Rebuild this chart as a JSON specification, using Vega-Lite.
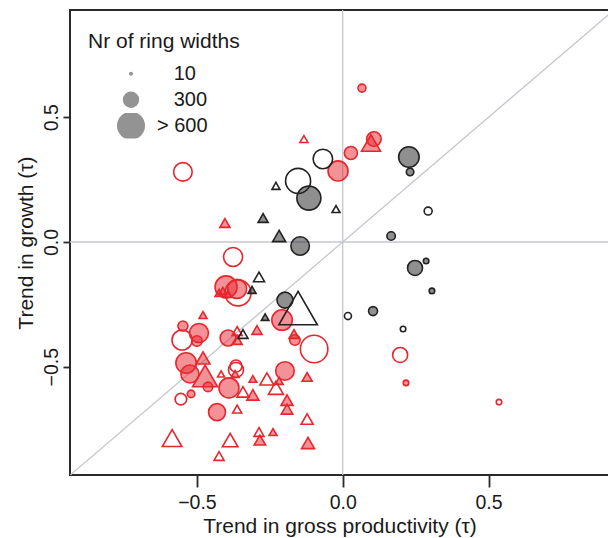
{
  "$schema": "https://vega.github.io/schema/vega-lite/v6.json",
  "width": 539,
  "height": 465,
  "autosize": {"type": "none"},
  "padding": {"left": 70, "top": 10, "right": 0, "bottom": 63},
  "background": "white",
  "config": {"font": "Liberation Sans", "view": {"stroke": "#2a2a2a", "strokeWidth": 2}},
  "layer": [
    {
      "data": {"values": [{"ref": "zero"}]},
      "mark": {"type": "rule", "color": "#c4c7cf", "strokeWidth": 1.3},
      "encoding": {"y": {"datum": 0, "type": "quantitative"}}
    },
    {
      "data": {"values": [{"ref": "zero"}]},
      "mark": {"type": "rule", "color": "#c4c7cf", "strokeWidth": 1.3},
      "encoding": {"x": {"datum": 0, "type": "quantitative"}}
    },
    {
      "data": {"values": [{"ref": "one-to-one"}]},
      "mark": {"type": "rule", "color": "#c4c7cf", "strokeWidth": 1.3, "clip": true},
      "encoding": {
        "x": {"datum": -0.935, "type": "quantitative"},
        "y": {"datum": -0.935, "type": "quantitative"},
        "x2": {"datum": 0.935},
        "y2": {"datum": 0.935}
      }
    },
    {
      "data": {"values": [
        {"x": 0.066, "y": 0.617, "n": 107, "shape": "circle", "group": "red filled"},
        {"x": 0.107, "y": 0.413, "n": 255, "shape": "circle", "group": "red filled"},
        {"x": 0.028, "y": 0.357, "n": 220, "shape": "circle", "group": "red filled"},
        {"x": -0.016, "y": 0.285, "n": 390, "shape": "circle", "group": "red filled"},
        {"x": -0.208, "y": -0.313, "n": 402, "shape": "circle", "group": "red filled"},
        {"x": -0.164, "y": -0.393, "n": 163, "shape": "circle", "group": "red filled"},
        {"x": -0.4, "y": -0.18, "n": 440, "shape": "circle", "group": "red filled"},
        {"x": -0.362, "y": -0.188, "n": 364, "shape": "circle", "group": "red filled"},
        {"x": -0.548, "y": -0.337, "n": 152, "shape": "circle", "group": "red filled"},
        {"x": -0.493, "y": -0.365, "n": 364, "shape": "circle", "group": "red filled"},
        {"x": -0.5, "y": -0.397, "n": 163, "shape": "circle", "group": "red filled"},
        {"x": -0.393, "y": -0.385, "n": 290, "shape": "circle", "group": "red filled"},
        {"x": -0.537, "y": -0.485, "n": 402, "shape": "circle", "group": "red filled"},
        {"x": -0.524, "y": -0.529, "n": 339, "shape": "circle", "group": "red filled"},
        {"x": -0.462, "y": -0.581, "n": 140, "shape": "circle", "group": "red filled"},
        {"x": -0.52, "y": -0.609, "n": 97, "shape": "circle", "group": "red filled"},
        {"x": -0.431, "y": -0.682, "n": 315, "shape": "circle", "group": "red filled"},
        {"x": -0.39, "y": -0.585, "n": 390, "shape": "circle", "group": "red filled"},
        {"x": -0.198, "y": -0.517, "n": 352, "shape": "circle", "group": "red filled"},
        {"x": 0.217, "y": -0.565, "n": 52, "shape": "circle", "group": "red filled"},
        {"x": 0.097, "y": 0.397, "n": 364, "shape": "triangle", "group": "red filled"},
        {"x": -0.404, "y": 0.076, "n": 152, "shape": "triangle", "group": "red filled"},
        {"x": -0.294, "y": -0.353, "n": 152, "shape": "triangle", "group": "red filled"},
        {"x": -0.167, "y": -0.369, "n": 152, "shape": "triangle", "group": "red filled"},
        {"x": -0.424, "y": -0.204, "n": 107, "shape": "triangle", "group": "red filled"},
        {"x": -0.411, "y": -0.196, "n": 107, "shape": "triangle", "group": "red filled"},
        {"x": -0.393, "y": -0.208, "n": 107, "shape": "triangle", "group": "red filled"},
        {"x": -0.479, "y": -0.293, "n": 107, "shape": "triangle", "group": "red filled"},
        {"x": -0.362, "y": -0.393, "n": 152, "shape": "triangle", "group": "red filled"},
        {"x": -0.479, "y": -0.465, "n": 243, "shape": "triangle", "group": "red filled"},
        {"x": -0.472, "y": -0.537, "n": 519, "shape": "triangle", "group": "red filled"},
        {"x": -0.369, "y": -0.529, "n": 107, "shape": "triangle", "group": "red filled"},
        {"x": -0.308, "y": -0.549, "n": 97, "shape": "triangle", "group": "red filled"},
        {"x": -0.218, "y": -0.557, "n": 107, "shape": "triangle", "group": "red filled"},
        {"x": -0.308, "y": -0.613, "n": 197, "shape": "triangle", "group": "red filled"},
        {"x": -0.191, "y": -0.634, "n": 197, "shape": "triangle", "group": "red filled"},
        {"x": -0.191, "y": -0.67, "n": 185, "shape": "triangle", "group": "red filled"},
        {"x": -0.122, "y": -0.541, "n": 152, "shape": "triangle", "group": "red filled"},
        {"x": -0.284, "y": -0.794, "n": 185, "shape": "triangle", "group": "red filled"},
        {"x": -0.239, "y": -0.762, "n": 107, "shape": "triangle", "group": "red filled"},
        {"x": -0.119, "y": -0.806, "n": 220, "shape": "triangle", "group": "red filled"},
        {"x": -0.548, "y": 0.281, "n": 352, "shape": "circle", "group": "red open"},
        {"x": 0.197, "y": -0.453, "n": 267, "shape": "circle", "group": "red open"},
        {"x": 0.536, "y": -0.642, "n": 52, "shape": "circle", "group": "red open"},
        {"x": -0.098, "y": -0.429, "n": 586, "shape": "circle", "group": "red open"},
        {"x": -0.376, "y": -0.06, "n": 364, "shape": "circle", "group": "red open"},
        {"x": -0.359, "y": -0.204, "n": 546, "shape": "circle", "group": "red open"},
        {"x": -0.551, "y": -0.393, "n": 390, "shape": "circle", "group": "red open"},
        {"x": -0.555, "y": -0.63, "n": 185, "shape": "circle", "group": "red open"},
        {"x": -0.366, "y": -0.497, "n": 197, "shape": "circle", "group": "red open"},
        {"x": -0.366, "y": -0.513, "n": 267, "shape": "circle", "group": "red open"},
        {"x": -0.133, "y": 0.413, "n": 107, "shape": "triangle", "group": "red open"},
        {"x": -0.362, "y": -0.357, "n": 152, "shape": "triangle", "group": "red open"},
        {"x": -0.417, "y": -0.529, "n": 86, "shape": "triangle", "group": "red open"},
        {"x": -0.342, "y": -0.601, "n": 197, "shape": "triangle", "group": "red open"},
        {"x": -0.26, "y": -0.549, "n": 243, "shape": "triangle", "group": "red open"},
        {"x": -0.229, "y": -0.585, "n": 267, "shape": "triangle", "group": "red open"},
        {"x": -0.362, "y": -0.67, "n": 129, "shape": "triangle", "group": "red open"},
        {"x": -0.585, "y": -0.786, "n": 377, "shape": "triangle", "group": "red open"},
        {"x": -0.386, "y": -0.794, "n": 279, "shape": "triangle", "group": "red open"},
        {"x": -0.424, "y": -0.858, "n": 152, "shape": "triangle", "group": "red open"},
        {"x": -0.287, "y": -0.762, "n": 152, "shape": "triangle", "group": "red open"},
        {"x": -0.122, "y": -0.71, "n": 197, "shape": "triangle", "group": "red open"},
        {"x": -0.116, "y": 0.176, "n": 493, "shape": "circle", "group": "black filled"},
        {"x": -0.146, "y": -0.016, "n": 352, "shape": "circle", "group": "black filled"},
        {"x": 0.227, "y": 0.341, "n": 402, "shape": "circle", "group": "black filled"},
        {"x": 0.231, "y": 0.281, "n": 97, "shape": "circle", "group": "black filled"},
        {"x": 0.166, "y": 0.024, "n": 118, "shape": "circle", "group": "black filled"},
        {"x": 0.248, "y": -0.104, "n": 267, "shape": "circle", "group": "black filled"},
        {"x": 0.286, "y": -0.076, "n": 52, "shape": "circle", "group": "black filled"},
        {"x": 0.306, "y": -0.196, "n": 52, "shape": "circle", "group": "black filled"},
        {"x": 0.104, "y": -0.277, "n": 129, "shape": "circle", "group": "black filled"},
        {"x": -0.198, "y": -0.233, "n": 290, "shape": "circle", "group": "black filled"},
        {"x": -0.273, "y": 0.096, "n": 152, "shape": "triangle", "group": "black filled"},
        {"x": -0.218, "y": 0.024, "n": 220, "shape": "triangle", "group": "black filled"},
        {"x": -0.311, "y": -0.192, "n": 107, "shape": "triangle", "group": "black filled"},
        {"x": -0.266, "y": -0.301, "n": 97, "shape": "triangle", "group": "black filled"},
        {"x": -0.068, "y": 0.333, "n": 377, "shape": "circle", "group": "black open"},
        {"x": -0.153, "y": 0.245, "n": 519, "shape": "circle", "group": "black open"},
        {"x": 0.293, "y": 0.124, "n": 107, "shape": "circle", "group": "black open"},
        {"x": 0.018, "y": -0.297, "n": 86, "shape": "circle", "group": "black open"},
        {"x": 0.207, "y": -0.349, "n": 52, "shape": "circle", "group": "black open"},
        {"x": -0.229, "y": 0.225, "n": 107, "shape": "triangle", "group": "black open"},
        {"x": -0.023, "y": 0.132, "n": 107, "shape": "triangle", "group": "black open"},
        {"x": -0.153, "y": -0.265, "n": 899, "shape": "triangle", "group": "black open"},
        {"x": -0.287, "y": -0.14, "n": 174, "shape": "triangle", "group": "black open"},
        {"x": -0.342, "y": -0.369, "n": 152, "shape": "triangle", "group": "black open"}
      ]},
      "mark": {"type": "point", "filled": true, "opacity": 1, "strokeWidth": 1.6},
      "encoding": {
        "x": {
          "field": "x", "type": "quantitative",
          "scale": {"domain": [-0.9352, 0.9132], "nice": false, "zero": false},
          "axis": {
            "values": [-0.5, 0, 0.5], "format": ".1f",
            "title": "Trend in gross productivity (τ)",
            "domain": false, "grid": false,
            "tickSize": 12, "tickWidth": 1.8, "tickColor": "#2a2a2a",
            "labelFontSize": 19.5, "labelColor": "#1a1a1a", "labelPadding": 6, "labelFlush": false,
            "titleFontSize": 21, "titleFontWeight": "normal", "titleColor": "#1a1a1a",
            "titleX": 269.5, "titleY": 57, "titleBaseline": "alphabetic", "titleAlign": "center"
          }
        },
        "y": {
          "field": "y", "type": "quantitative",
          "scale": {"domain": [-0.9342, 0.9302], "nice": false, "zero": false},
          "axis": {
            "values": [-0.5, 0, 0.5], "format": ".1f",
            "title": "Trend in growth (τ)",
            "domain": false, "grid": false,
            "tickSize": 7, "tickWidth": 1.8, "tickColor": "#2a2a2a",
            "labelAngle": 270, "labelAlign": "center", "labelBaseline": "alphabetic", "labelPadding": 6,
            "labelFontSize": 19.5, "labelColor": "#1a1a1a", "labelFlush": false,
            "titleFontSize": 21, "titleFontWeight": "normal", "titleColor": "#1a1a1a",
            "titleAngle": 270, "titleX": -38, "titleY": 232.5, "titleBaseline": "alphabetic", "titleAlign": "center"
          }
        },
        "size": {
          "field": "n", "type": "quantitative",
          "scale": {"type": "pow", "exponent": 1.6, "domain": [10, 600], "range": [16, 784], "zero": false, "nice": false},
          "legend": {
            "title": "Nr of ring widths",
            "values": [10, 300, 600],
            "orient": "none", "legendX": 18, "legendY": 21,
            "direction": "vertical", "padding": 0,
            "titleFontSize": 21, "titleFontWeight": "normal", "titleColor": "#1a1a1a", "titlePadding": 9,
            "labelFontSize": 20, "labelColor": "#1a1a1a", "labelOffset": 12,
            "symbolOffset": 29, "clipHeight": 25.5, "rowPadding": 0,
            "symbolFillColor": "#939393", "symbolStrokeWidth": 0,
            "labelExpr": "datum.value == 600 ? '> 600' : '\u200b\u00a0\u00a0\u00a0' + datum.label"
          }
        },
        "shape": {
          "field": "shape", "type": "nominal",
          "scale": {"domain": ["circle", "triangle"], "range": ["circle", "triangle-up"]},
          "legend": null
        },
        "stroke": {
          "field": "group", "type": "nominal",
          "scale": {"domain": ["red filled", "red open", "black filled", "black open"], "range": ["#e8262d", "#e8262d", "#222222", "#222222"]},
          "legend": null
        },
        "fill": {
          "field": "group", "type": "nominal",
          "scale": {"domain": ["red filled", "red open", "black filled", "black open"], "range": ["rgba(232,38,45,0.5)", "transparent", "rgba(40,40,40,0.52)", "transparent"]},
          "legend": null
        }
      }
    }
  ]
}
